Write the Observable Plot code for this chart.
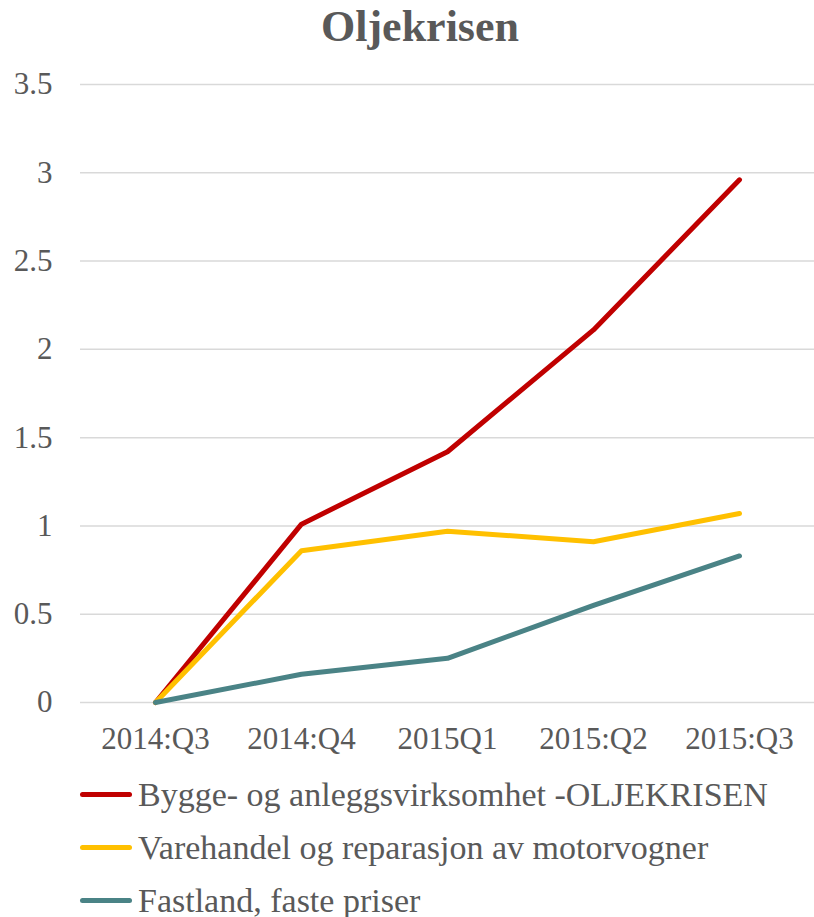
<!DOCTYPE html>
<html>
<head>
<meta charset="utf-8">
<script src="https://cdn.jsdelivr.net/npm/d3@7"></script>
<script src="https://cdn.jsdelivr.net/npm/@observablehq/plot@0.6"></script>
<style>
  html, body { margin: 0; padding: 0; background: #fff; }
  body { width: 814px; height: 917px; overflow: hidden; font-family: "Liberation Serif", "DejaVu Serif", serif; color: #595959; }
  #title { height: 55px; padding-top: 5px; text-align: center; font-size: 44px; font-weight: bold; line-height: 44px; padding-left: 26px; box-sizing: content-box; }
  #chart svg { overflow: visible; display: block; }
  #legend { margin-top: 3px; }
  .row { display: flex; align-items: center; height: 53px; }
  .sw { margin-left: 80px; width: 52px; height: 5px; border-radius: 3px; }
  .lab { margin-left: 6px; font-size: 34px; line-height: 34px; }
</style>
</head>
<body>
<div id="title">Oljekrisen</div>
<div id="chart"></div>
<div id="legend"></div>
<script>
const quarters = ["2014:Q3", "2014:Q4", "2015Q1", "2015:Q2", "2015:Q3"];
const seriesNames = ["Bygge- og anleggsvirksomhet -OLJEKRISEN", "Varehandel og reparasjon av motorvogner", "Fastland, faste priser"];
const bygg = [0, 1.01, 1.42, 2.11, 2.96];
const varehandel = [0, 0.86, 0.97, 0.91, 1.07];
const fastland = [0, 0.16, 0.25, 0.55, 0.83];
const colors = ["#C00000", "#FFC000", "#4A8386"];
const yTicks = [0, 0.5, 1, 1.5, 2, 2.5, 3, 3.5];

const seriesValues = [bygg, varehandel, fastland];
const data = [];
seriesNames.forEach((s, i) => quarters.forEach((q, j) => data.push({series: s, quarter: q, value: seriesValues[i][j]})));

const plot = Plot.plot({
  width: 814,
  height: 705,
  marginTop: 24,
  marginLeft: 80,
  marginRight: 0,
  marginBottom: 63,
  style: {fontFamily: "'Liberation Serif', 'DejaVu Serif', serif", fontSize: "31px", color: "#595959", background: "transparent"},
  x: {type: "point", domain: quarters, padding: 0.5, label: null},
  y: {domain: [0, 3.5], label: null},
  color: {domain: seriesNames, range: colors},
  marks: [
    Plot.gridY(yTicks, {stroke: "#D9D9D9", strokeOpacity: 1, strokeWidth: 1.5}),
    Plot.axisY(yTicks, {tickSize: 0, tickPadding: 28, label: null, tickFormat: d => String(d), fill: "#595959"}),
    Plot.axisX(quarters, {tickSize: 0, tickPadding: 24, label: null, fill: "#595959"}),
    Plot.line(data, {x: "quarter", y: "value", z: "series", stroke: "series", strokeWidth: 5, strokeLinecap: "round", strokeLinejoin: "round"})
  ]
});
document.getElementById("chart").appendChild(plot);

const legend = document.getElementById("legend");
seriesNames.forEach((s, i) => {
  const row = document.createElement("div");
  row.className = "row";
  const sw = document.createElement("div");
  sw.className = "sw";
  sw.style.background = colors[i];
  const lab = document.createElement("span");
  lab.className = "lab";
  lab.textContent = s;
  row.appendChild(sw);
  row.appendChild(lab);
  legend.appendChild(row);
});
</script>
</body>
</html>
